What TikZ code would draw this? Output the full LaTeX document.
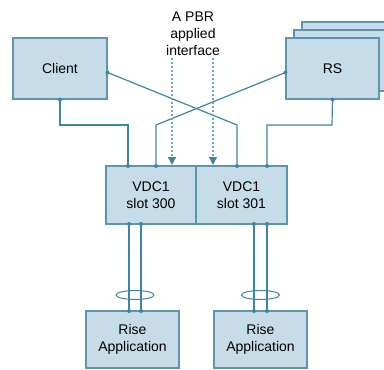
\documentclass[tikz,border=0pt]{standalone}
\usepackage{fontspec}
\setmainfont{Liberation Sans}
\usetikzlibrary{arrows.meta,calc}
\definecolor{boxfill}{HTML}{C6DDE9}
\definecolor{boxline}{HTML}{5F94AE}
\definecolor{wire}{HTML}{3D84A5}
\definecolor{pbrcol}{HTML}{6FA6C0}
\tikzset{
  box/.style={draw=boxline, fill=boxfill, line width=1.1pt, rectangle, inner sep=0pt, align=center,
    font=\fontsize{14}{17}\selectfont},
  wireline/.style={draw=wire, line width=1.2pt},
  dotmark/.style={fill=wire, circle, inner sep=0pt, minimum size=4pt},
  pbr/.style={draw=pbrcol, line width=1.4pt, dash pattern=on 2pt off 2pt,
    -{Triangle[length=8pt,width=8pt,color=wire]}},
  bundle/.style={draw=wire, line width=1pt},
}
\begin{document}
\begin{tikzpicture}[x=1pt,y=-1pt]
\useasboundingbox (0,0) rectangle (384,370);
\begin{scope}
\clip (0,0) rectangle (384,370);
% stacked RS boxes
\node[box, minimum width=93pt, minimum height=61pt] (rs3) at (348.5,52.5) {};
\node[box, minimum width=93pt, minimum height=61pt] (rs2) at (340.5,60.5) {};
\node[box, minimum width=93pt, minimum height=61pt] (rs) at (332.5,68.5) {RS};
\end{scope}
\node[box, minimum width=94pt, minimum height=61pt] (client) at (60,68.5) {Client};
\node[box, minimum width=90pt, minimum height=58pt] (vdcA) at (151,195) {VDC1\\slot 300};
\node[box, minimum width=91pt, minimum height=58pt] (vdcB) at (241.5,195) {VDC1\\slot 301};
\node[box, minimum width=93pt, minimum height=57pt] (riseA) at (132.5,339.5) {Rise\\Application};
\node[box, minimum width=93pt, minimum height=57pt] (riseB) at (260.5,339.5) {Rise\\Application};
\node[align=center, font=\fontsize{14}{17}\selectfont] (label) at (193,34) {A PBR\\applied\\interface};

% connection points
\coordinate (cE) at ($(client.east)+(0,4)$);
\coordinate (rW) at ($(rs.west)+(0,4)$);
\coordinate (v1) at (128,166);
\coordinate (v2) at (156,166);
\coordinate (v3) at (237,166);
\coordinate (v4) at (267,166);
\coordinate (b1) at (129,224);
\coordinate (b2) at (141,224);
\coordinate (b3) at (254,224);
\coordinate (b4) at (267,224);
\coordinate (r1) at (129,311);
\coordinate (r2) at (141,311);
\coordinate (r3) at (254,311);
\coordinate (r4) at (267,311);
\coordinate (a1s) at (172,58);
\coordinate (a1e) at (172,165);
\coordinate (a2s) at (213,58);
\coordinate (a2e) at (213,165);

% wires
\draw[wireline] (client.south) -- (60,125) -| (v1);
\draw[wireline] (cE) -- (237,125) -- (v3);
\draw[wireline] (rW) -- (156,125) -- (v2);
\draw[wireline] (rs.south) -- (332,125) -| (v4);
\draw[wireline] (b1) -- (r1);
\draw[wireline] (b2) -- (r2);
\draw[wireline] (b3) -- (r3);
\draw[wireline] (b4) -- (r4);

% bundles
\draw[bundle] (135,295) ellipse [x radius=19pt, y radius=4.5pt];
\draw[bundle] (260.5,295) ellipse [x radius=19pt, y radius=4.5pt];

% PBR arrows
\draw[pbr] (a1s) -- (a1e);
\draw[pbr] (a2s) -- (a2e);

% dots
\foreach \p in {client.south, cE, rW, rs.south, v1, v2, v3, v4, b1, b2, b3, b4, r1, r2, r3, r4}
  \node[dotmark] at (\p) {};
\end{tikzpicture}
\end{document}
